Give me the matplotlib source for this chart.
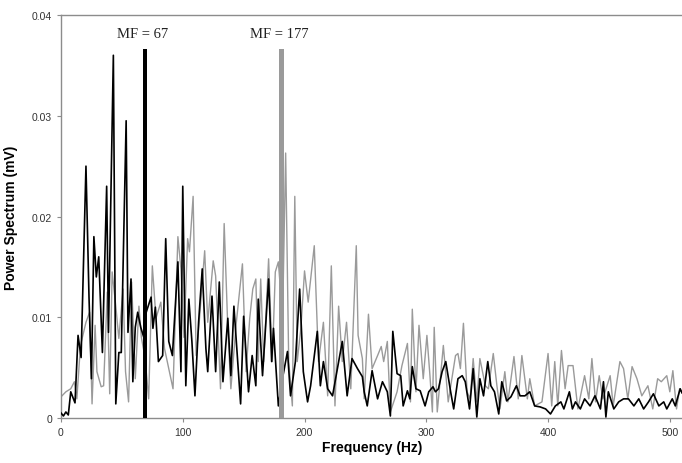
import matplotlib
matplotlib.use("Agg")
import matplotlib.pyplot as plt
import numpy as np

# values in units of 0.001 mV
black_f = [0, 2, 4, 6, 8, 11.5, 14, 16.5, 20.5, 23, 25, 27, 29, 31, 34, 37.5, 39, 43, 45, 47.5,
           49.5, 53.5, 55, 57.5, 59, 61, 63, 65.5, 68, 70, 74, 75.5, 77.5, 80, 83.5, 86, 88.5, 91.5,
           96, 98.5, 100, 102.5, 105, 107.5, 110, 113, 116, 119, 120.5, 124, 127, 130, 133, 137,
           139.5, 142, 147.5, 150, 154, 157, 160, 162, 165.5, 170.5, 173, 174.5, 178.5, 182, 186,
           188.5, 192.5, 196, 199, 202.5, 205, 210.5, 213, 215.5, 219, 223, 228, 231, 235, 239,
           243.5, 247.5, 249, 251.5, 255.5, 260, 264, 268, 270.5, 272.5, 276, 279, 281, 284.5,
           286.5, 288.5, 291.5, 295, 299, 302, 305.5, 307.5, 310, 313, 316, 320, 322.5, 326,
           329.5, 332, 335.5, 338.5, 341.5, 344, 347, 350.5, 353, 356, 359.5, 362, 366, 369.5,
           374, 377, 381, 385, 389, 393.5, 398, 402, 406, 410.5, 413, 417.5, 420, 422.5, 426.5,
           430, 434.5, 438.5, 443, 445.5, 447.5, 449.5, 454, 458, 462, 466, 470.5, 474.5, 478.5,
           482.5, 486.5, 491, 495, 497.5, 502, 504.5, 508.5, 510]
black_v = [0.5, 0.2, 0.6, 0.3, 2.6, 1.5, 8.2, 6.0, 25.0, 12.0, 3.9, 18.0, 14.0, 16.0, 6.5, 23.0, 8.5, 36.0, 1.4, 6.5,
           6.5, 29.5, 8.5, 13.8, 3.6, 9.0, 10.5, 9.0, 8.0, 10.5, 12.0, 8.9, 11.0, 5.6, 6.2, 17.8, 7.6, 6.2,
           15.5, 4.6, 23.0, 3.2, 11.8, 7.6, 2.2, 9.5, 14.8, 6.9, 4.6, 12.1, 4.6, 13.5, 3.6, 9.9,
           4.2, 11.1, 1.4, 10.1, 2.6, 6.2, 3.2, 11.8, 4.2, 13.8, 5.6, 8.9, 1.2, 4.0, 6.6,
           2.2, 5.6, 12.8, 4.6, 1.6, 3.2, 8.6, 3.2, 5.6, 2.9, 2.2, 5.6, 7.6, 2.2, 5.9,
           4.9, 4.1, 2.6, 1.2, 4.7, 1.9, 3.6, 2.6, 0.2, 8.6, 4.4, 4.2, 1.2, 2.7,
           1.9, 5.1, 2.9, 2.7, 1.2, 2.6, 3.1, 2.6, 2.9, 4.6, 5.6, 2.6, 0.9, 3.9,
           4.2, 3.6, 0.9, 4.9, 0.1, 3.9, 2.2, 5.6, 3.2, 2.6, 0.4, 3.6, 1.7, 2.1,
           3.2, 2.2, 2.2, 2.6, 1.2, 1.1, 0.9, 0.4, 1.2, 1.6, 0.9, 2.6, 0.9, 1.6, 0.9,
           1.9, 1.2, 2.2, 0.9, 3.6, 0.1, 2.6, 0.9, 1.6, 1.9, 1.9, 1.2, 1.9, 0.9,
           1.6, 2.4, 1.2, 1.6, 0.9, 1.9, 1.2, 2.9, 2.5]

gray_f = [0, 4, 8, 11, 13, 16, 20.5, 23.5, 25.5, 28, 29.5, 33, 35, 38, 40, 42, 45, 47.5, 51, 53,
          55.5, 58, 61, 64, 66, 69, 72, 75, 78, 82, 85, 89, 92, 96, 98.5, 101, 104, 105.5, 108.5,
          111, 113.5, 118, 120.5, 125, 127, 131, 134, 137, 139.5, 144, 149, 152, 155, 157.5, 160,
          162, 164, 166.5, 170.5, 173.5, 176, 178.5, 182, 184.5, 187, 190, 192, 194, 197, 200,
          203, 208, 211.5, 215.5, 219, 222, 225, 228, 231, 234.5, 238, 242.5, 244, 247.5, 249,
          252.5, 255.5, 260, 263, 265, 268, 270.5, 276, 280, 284.5, 287, 288.5, 291.5, 294,
          297.5, 300.5, 303, 305, 306.5, 309, 314, 318, 324, 326, 328, 330.5, 333.5, 336, 338.5,
          341.5, 344, 348.5, 351, 355, 358, 360.5, 364.5, 367, 372, 375.5, 378.5, 383, 385, 389,
          395, 400, 403, 405.5, 408, 411, 414, 416.5, 420.5, 424.5, 430, 433.5, 436, 439, 442,
          445, 451, 453.5, 459, 462, 465.5, 469, 473, 477, 482, 486, 490, 493, 497.5, 500,
          502.5, 505.5, 508, 510]
gray_v = [2.1, 2.6, 2.9, 3.6, 1.9, 7.2, 9.5, 10.5, 1.4, 9.2, 4.6, 3.1, 3.2, 12.5, 2.4, 14.5, 11.1, 7.9, 12.8, 4.6,
          1.6, 13.5, 3.9, 11.1, 8.0, 6.0, 1.9, 15.1, 9.9, 11.5, 6.9, 4.6, 2.9, 18.0, 14.8, 8.0, 17.8, 16.5, 22.0,
          6.2, 9.5, 16.6, 9.5, 15.6, 14.1, 2.9, 19.3, 8.9, 2.9, 9.5, 15.3, 4.6, 9.9, 12.8, 13.8,
          5.6, 13.8, 5.6, 15.8, 5.6, 14.5, 15.5, 10.0, 26.3, 5.6, 1.2, 22.0, 5.6, 8.9, 14.6,
          11.5, 17.1, 5.6, 9.5, 2.2, 15.1, 1.2, 11.1, 5.6, 9.5, 2.9, 17.1, 8.2, 5.9, 1.9,
          10.3, 4.9, 6.2, 7.1, 5.6, 7.6, 0.6, 2.6, 5.2, 7.4, 1.6, 10.8, 2.6, 9.2,
          3.9, 8.2, 4.2, 0.6, 9.0, 0.6, 7.2, 1.6, 6.2, 6.4, 4.9, 9.4, 2.6, 1.9, 5.9,
          1.6, 5.9, 3.2, 2.9, 6.4, 3.2, 0.9, 4.6, 1.6, 6.1, 1.9, 6.2, 1.9, 3.9, 1.2,
          1.6, 6.4, 1.2, 5.6, 1.2, 6.7, 2.9, 5.2, 5.2, 0.9, 4.2, 1.9, 5.9, 1.6, 4.2,
          1.9, 4.2, 1.2, 5.6, 4.9, 1.9, 5.1, 3.9, 2.2, 3.2, 0.9, 3.9, 3.6, 4.2, 2.6,
          4.7, 0.9, 2.9, 2.5]

# median frequency markers (drawn position, label)
mf_pos = [69, 181]
mf_labels = ["MF = 67", "MF = 177"]
mf_height = 36.6

GRAY = "#9a9a9a"
SPINE = "#8c8c8c"

fig = plt.figure(figsize=(6.82, 4.64), dpi=100)
ax = fig.add_axes([61 / 682, 1 - 419 / 464, 1 - 61 / 682, (419 - 16) / 464])

sc = 1e-3
ax.plot(gray_f, np.array(gray_v) * sc, color=GRAY, lw=1.0, zorder=2)
ax.plot(black_f, np.array(black_v) * sc, color="black", lw=1.2, zorder=3)

for pos, lab, col in zip(mf_pos, mf_labels, ["black", GRAY]):
    ax.bar(pos, mf_height * sc, width=4, color=col, zorder=4)
    ax.text(pos - 2, 0.0382, lab, ha="center", va="center", fontsize=10.5,
            family="Liberation Serif", color="#222222")

ax.set_xlim(0, 510)
ax.set_ylim(0, 0.04)
ax.set_xticks([0, 100, 200, 300, 400, 500])
ax.set_yticks([0, 0.01, 0.02, 0.03, 0.04])
ax.set_yticklabels(["0", "0.01", "0.02", "0.03", "0.04"])

for s in ["top", "left", "bottom"]:
    ax.spines[s].set_color(SPINE)
    ax.spines[s].set_linewidth(1.0)
ax.spines["right"].set_visible(False)

ax.tick_params(axis="both", labelsize=7.5, colors=SPINE, labelcolor="#333333",
               length=3, width=0.8, direction="out")
for t in ax.get_xticklabels() + ax.get_yticklabels():
    t.set_family("Liberation Sans")

ax.set_xlabel("Frequency (Hz)", fontsize=10, fontweight="bold", family="Liberation Sans")
ax.set_ylabel("Power Spectrum (mV)", fontsize=10, fontweight="bold", family="Liberation Sans")
ax.xaxis.set_label_coords((372 - 61) / 621, -(441 - 419) / 403)
ax.yaxis.set_label_coords(-(18 - 61) / -621, 0.5)

fig.savefig("out.png", dpi=100)
